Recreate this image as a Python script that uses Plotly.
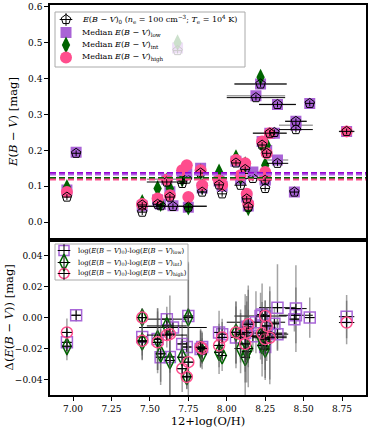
import plotly.graph_objects as go
from plotly.subplots import make_subplots

# 12+log(O/H) per galaxy and its uncertainty
oh = [6.96, 7.02, 7.45, 7.45, 7.55, 7.57, 7.61, 7.63, 7.65, 7.68,
      7.71, 7.74, 7.75, 7.83, 7.84, 7.95, 7.97, 8.06, 8.09, 8.12,
      8.13, 8.14, 8.17, 8.19, 8.22, 8.23, 8.25, 8.25, 8.26, 8.28,
      8.31, 8.33, 8.33, 8.44, 8.45, 8.45, 8.54, 8.78]
oh_err = [0.03, 0.03, 0.03, 0.03, 0.03, 0.03, 0.13, 0.03, 0.22, 0.03,
          0.03, 0.03, 0.03, 0.03, 0.03, 0.03, 0.03, 0.03, 0.04, 0.03,
          0.03, 0.03, 0.05, 0.19, 0.17, 0.03, 0.03, 0.04, 0.03, 0.11,
          0.03, 0.12, 0.07, 0.03, 0.07, 0.11, 0.03, 0.05]

# top panel: E(B-V) values
ebv0 = [0.070, 0.192, 0.028, 0.048, 0.050, 0.046, 0.112, 0.070, 0.044, 0.478,
        0.108, 0.120, 0.042, 0.137, 0.084, 0.104, 0.079, 0.165, 0.103, 0.147,
        0.065, 0.042, 0.122, 0.347, 0.385, 0.215, 0.094, 0.117, 0.192, 0.248,
        0.250, 0.328, 0.164, 0.084, 0.281, 0.258, 0.331, 0.253]
ebv_low = [0.090, 0.195, 0.045, None, 0.062, 0.050, 0.120, 0.085, 0.046, 0.485,
           0.130, 0.135, 0.042, 0.150, 0.095, 0.115, 0.100, 0.170, 0.120, 0.155,
           0.070, 0.045, 0.140, 0.352, 0.385, 0.225, 0.117, 0.120, 0.200, 0.248,
           0.248, 0.328, 0.173, 0.084, 0.281, 0.270, 0.331, 0.253]
ebv_int = [0.097, None, 0.055, 0.050, 0.094, 0.052, 0.115, 0.094, None, 0.500,
           0.120, None, 0.042, 0.140, 0.100, 0.140, 0.110, 0.180, 0.126, 0.160,
           0.070, 0.040, None, None, 0.404, 0.215, 0.159, 0.126, 0.215, None,
           None, None, None, None, None, None, None, None]
ebv_high = [0.084, None, 0.051, 0.049, 0.066, None, 0.118, 0.075, None, None,
            0.145, 0.159, 0.070, 0.145, 0.103, 0.117, 0.104, 0.173, 0.131, 0.164,
            0.079, 0.051, None, None, None, 0.225, 0.140, 0.126, 0.192, 0.248,
            None, None, None, None, None, None, None, 0.253]

# median levels (dashed lines)
med_low = 0.137
med_low2 = 0.133
med_int = 0.123
med_0 = 0.121
med_high = 0.119

# bottom panel: differences
d_low = [-0.016, 0.0015, -0.0125, None, -0.0139, -0.0256, -0.001, -0.0254, -0.0064, None,
         -0.017, -0.019, 0.001, -0.0203, -0.019, -0.0096, -0.0107, -0.0128, -0.013, -0.010,
         -0.006, -0.007, -0.012, -0.003, 0.001, 0.002, -0.019, 0.001, -0.009, -0.010,
         -0.004, 0.0064, -0.0107, -0.001, 0.0058, 0.0015, 0.0, 0.0006]
d_int = [-0.0185, None, -0.0156, 0.0, -0.0139, -0.0234, -0.0054, -0.0277, None, None,
         -0.0256, -0.038, 0.0, -0.0203, -0.0234, -0.0224, -0.0245, -0.0096, -0.020, -0.0256,
         -0.022, -0.020, None, None, -0.012, -0.018, -0.0203, -0.014, -0.016, None,
         None, None, None, None, None, None, None, None]
d_high = [-0.0096, None, -0.015, 0.0, -0.016, None, -0.0113, -0.0107, None, None,
          -0.033, -0.0383, -0.0288, -0.0192, -0.020, -0.018, -0.0128, -0.0096, -0.0107, -0.017,
          -0.0096, -0.0043, None, None, None, -0.010, -0.0139, 0.001, -0.0054, -0.013,
          None, None, None, None, None, None, None, -0.0032]
d_err = [0.009, 0.004, 0.012, 0.006, 0.02, 0.018, 0.008, 0.025, 0.006, 0.0,
         0.015, 0.008, 0.035, 0.012, 0.01, 0.014, 0.01, 0.02, 0.016, 0.025,
         0.02, 0.025, 0.01, 0.02, 0.015, 0.02, 0.02, 0.01, 0.012, 0.03,
         0.01, 0.028, 0.01, 0.008, 0.028, 0.018, 0.013, 0.014]

# median and scatter of the differences
dmed_low, dband_low = -0.0113, (-0.0207, -0.0070)
dmed_int, dband_int = -0.0166, (-0.0262, -0.0070)
dmed_high, dband_high = -0.0117, (-0.0235, -0.0032)

FONT = "DejaVu Serif"
PURPLE = "#a052d2"
OPEN_PURPLE = "#a866d8"
GREEN = "#006400"
PINK = "#ff4d8d"

EBV = "<i>E</i>(<i>B</i> − <i>V</i>)"
CROSS = dict(symbol="cross-thin-open", size=7, color="black",
             line=dict(color="black", width=1))

fig = make_subplots(rows=2, cols=1, shared_xaxes=True, vertical_spacing=0,
                    row_heights=[0.603, 0.397])

# ---- top panel
fig.add_trace(go.Scatter(
    x=oh, y=ebv_low, mode="markers",
    marker=dict(symbol="square", size=11, color=PURPLE, opacity=0.9),
    error_x=dict(type="data", array=oh_err, color="rgba(120,120,120,0.7)",
                 thickness=1.5, width=0)), row=1, col=1)
fig.add_trace(go.Scatter(
    x=oh, y=ebv_int, mode="markers",
    marker=dict(symbol="diamond-tall", size=12, color=GREEN)), row=1, col=1)
fig.add_trace(go.Scatter(
    x=oh, y=ebv_high, mode="markers",
    marker=dict(symbol="circle", size=12, color=PINK)), row=1, col=1)
fig.add_trace(go.Scatter(
    x=oh, y=ebv0, mode="markers",
    marker=dict(symbol="pentagon-open", size=10, color="black",
                line=dict(width=1, color="black")),
    error_x=dict(type="data", array=oh_err, color="black", thickness=1, width=0),
    error_y=dict(type="constant", value=0.008, color="black", thickness=1, width=0)),
    row=1, col=1)

for level, color in [(med_low, "#9400d3"), (med_low2, "#b060e0"),
                     (med_0, "#8b2a2a"), (med_int, GREEN), (med_high, PINK)]:
    fig.add_hline(y=level, line=dict(color=color, width=2, dash="6px,3px"),
                  row=1, col=1)

# ---- bottom panel
for band, color in [(dband_int, "rgba(90,170,90,0.28)"),
                    (dband_high, "rgba(225,95,185,0.32)"),
                    (dband_low, "rgba(120,80,120,0.22)")]:
    fig.add_hrect(y0=band[0], y1=band[1], fillcolor=color, line_width=0,
                  layer="below", row=2, col=1)

fig.add_hline(y=0, line=dict(color="black", width=1.2, dash="4px,2px"), row=2, col=1)
for level, color in [(dmed_low, "#9932cc"), (dmed_high, PINK), (dmed_int, GREEN)]:
    fig.add_hline(y=level, line=dict(color=color, width=1.2, dash="dot"),
                  row=2, col=1)

gray_err = dict(type="data", array=d_err, color="rgba(90,90,90,0.55)",
                thickness=1.5, width=0)
black_err = dict(type="data", array=oh_err, color="black", thickness=1, width=0)

for values, symbol, size, color in [(d_low, "square-open", 11, OPEN_PURPLE),
                                    (d_int, "diamond-tall-open", 12, GREEN),
                                    (d_high, "circle-open", 11, PINK)]:
    fig.add_trace(go.Scatter(
        x=oh, y=values, mode="markers",
        marker=dict(symbol=symbol, size=size, color=color,
                    line=dict(width=1.5, color=color)),
        error_y=gray_err, error_x=black_err), row=2, col=1)
    fig.add_trace(go.Scatter(x=oh, y=values, mode="markers", marker=CROSS),
                  row=2, col=1)


# ---- legends, drawn on an extra subplot whose axes are in page pixels
def add_legend(box, rows, font_size):
    x0, y0, x1, y1 = box
    fig.add_shape(type="rect", xref="x3", yref="y3", x0=x0, y0=y0, x1=x1, y1=y1,
                  fillcolor="rgba(255,255,255,0.8)", line=dict(color="#aaaaaa", width=1),
                  layer="below")
    for gx, gy, tx, marker, cross, label in rows:
        fig.add_trace(go.Scatter(x=[gx], y=[gy], mode="markers", marker=marker,
                                 xaxis="x3", yaxis="y3"))
        if cross:
            fig.add_trace(go.Scatter(
                x=[gx], y=[gy], mode="markers", xaxis="x3", yaxis="y3",
                marker=dict(CROSS, size=9)))
        fig.add_annotation(text=label, xref="x3", yref="y3", x=tx, y=gy,
                           xanchor="left", yanchor="middle", showarrow=False,
                           font=dict(family=FONT, size=font_size, color="black"))


add_legend((55, 12, 245, 67), [
    (66, 19.5, 80,
     dict(symbol="pentagon-open", size=10, color="black", line=dict(width=1, color="black")),
     True,
     EBV + "<sub>0</sub> (<i>n</i><sub>e</sub> = 100 cm<sup>−3</sup>; "
     "<i>T</i><sub>e</sub> = 10<sup>4</sup> K)"),
    (66, 32.5, 80, dict(symbol="square", size=11, color=PURPLE, opacity=0.9), False,
     "Median " + EBV + "<sub>low</sub>"),
    (66, 45, 80, dict(symbol="diamond-tall", size=12, color=GREEN), False,
     "Median " + EBV + "<sub>int</sub>"),
    (66, 57.5, 80, dict(symbol="circle", size=12, color=PINK), False,
     "Median " + EBV + "<sub>high</sub>"),
], 8)

add_legend((55, 244, 188, 280), [
    (64, 250.5, 76,
     dict(symbol="square-open", size=10, color=OPEN_PURPLE,
          line=dict(width=1.5, color=OPEN_PURPLE)), True,
     "log(" + EBV + "<sub>0</sub>)-log(" + EBV + "<sub>low</sub>)"),
    (64, 262.5, 76,
     dict(symbol="diamond-tall-open", size=12, color=GREEN,
          line=dict(width=1.5, color=GREEN)), True,
     "log(" + EBV + "<sub>0</sub>)-log(" + EBV + "<sub>int</sub>)"),
    (64, 273.5, 76,
     dict(symbol="circle-open", size=10, color=PINK,
          line=dict(width=1.5, color=PINK)), True,
     "log(" + EBV + "<sub>0</sub>)-log(" + EBV + "<sub>high</sub>)"),
], 6.8)

axis_style = dict(showline=True, linecolor="black", linewidth=1.5, mirror=True,
                  showgrid=False, zeroline=False, ticks="outside", ticklen=4,
                  tickwidth=1, tickcolor="black", automargin=False,
                  tickfont=dict(family=FONT, size=9, color="black"))

fig.update_xaxes(**axis_style, row=1, col=1)
fig.update_xaxes(**axis_style, row=2, col=1)
fig.update_yaxes(**axis_style, row=1, col=1)
fig.update_yaxes(**axis_style, row=2, col=1)
fig.update_xaxes(range=[6.85, 8.906], row=1, col=1, ticks="", showticklabels=False)
fig.update_xaxes(range=[6.85, 8.906], row=2, col=1, dtick=0.25, tick0=7.0,
                 tickformat=".2f",
                 title=dict(text="12+log(O/H)", standoff=2,
                            font=dict(family=FONT, size=11.5, color="black")))
fig.update_yaxes(range=[-0.05, 0.605], dtick=0.1, tick0=0, tickformat=".1f",
                 row=1, col=1)
fig.update_yaxes(range=[-0.05, 0.05], dtick=0.02, tick0=0, tickformat=".2f",
                 row=2, col=1)

fig.add_annotation(text=EBV + " [mag]", xref="paper", yref="paper", x=0,
                   y=0.7, xshift=-37, xanchor="center", yanchor="middle",
                   textangle=-90, showarrow=False,
                   font=dict(family=FONT, size=11.5, color="black"))
fig.add_annotation(text="Δ(" + EBV + ") [mag]", xref="paper", yref="paper", x=0,
                   y=0.199, xshift=-41, xanchor="center", yanchor="middle",
                   textangle=-90, showarrow=False,
                   font=dict(family=FONT, size=11.5, color="black"))

fig.update_layout(
    width=374, height=429,
    margin=dict(l=50, r=8, t=5, b=34),
    plot_bgcolor="rgba(0,0,0,0)", paper_bgcolor="white",
    font=dict(family=FONT, color="black"),
    showlegend=False,
    xaxis3=dict(domain=[0, 1], range=[50, 366], visible=False, anchor="y3",
                fixedrange=True),
    yaxis3=dict(domain=[0, 1], range=[395, 5], visible=False, anchor="x3",
                fixedrange=True),
)

fig.write_html("out.html", config={"displayModeBar": False},
               post_script="document.body.style.margin = '0px';")
